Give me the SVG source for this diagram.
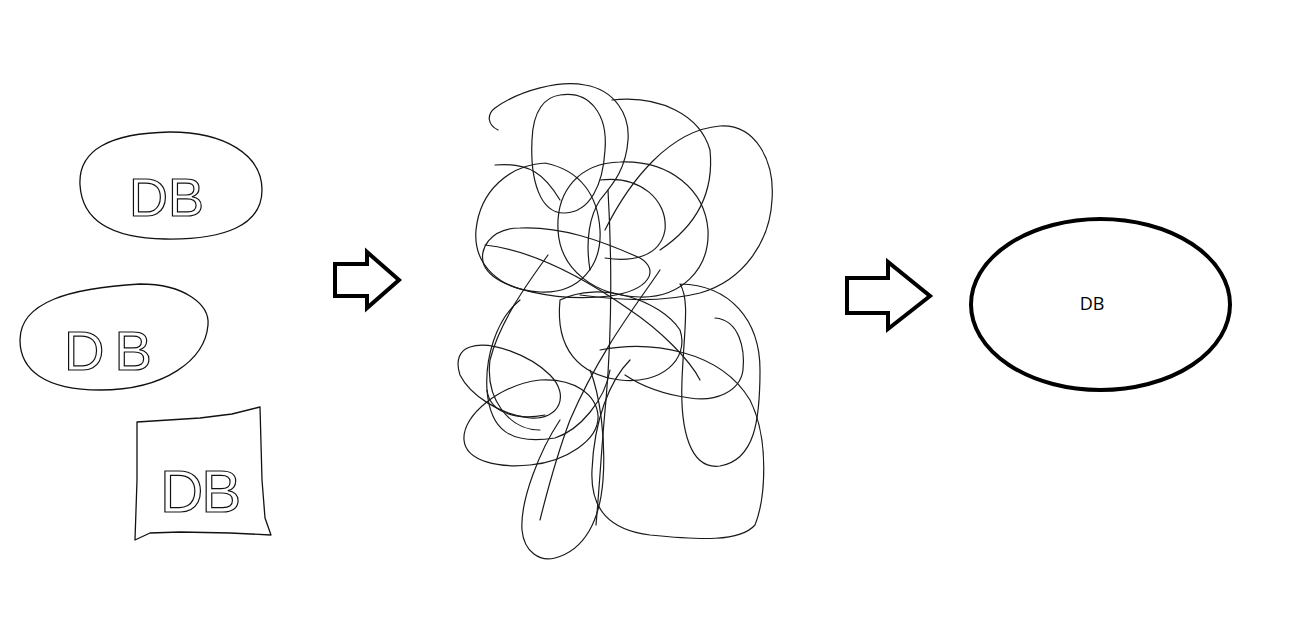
<svg xmlns="http://www.w3.org/2000/svg" width="1290" height="621" viewBox="0 0 1290 621">
<style>
.sk{fill:none;stroke:#111;stroke-width:1.3;stroke-linejoin:round;stroke-linecap:round}
.hw{fill:none;stroke:#111;stroke-width:1.2;font-family:"Liberation Sans",Arial,sans-serif}
.arr{fill:#fff;stroke:#000;stroke-width:4;stroke-linejoin:miter}
.scr{fill:none;stroke:#1a1a1a;stroke-width:1.2;stroke-linecap:round}
</style>
<rect width="1290" height="621" fill="#fff"/>
<g id="db1">
<path class="sk" d="M80,185 C78,150 110,133 170,132 C225,132 262,155 262,190 C262,225 225,240 165,239 C110,238 82,220 80,185 Z"/>
<text class="hw" x="129" y="216" font-size="54">DB</text>
</g>
<g id="db2">
<path class="sk" d="M20,340 C20,302 70,288 140,284 C185,284 210,305 208,325 C205,360 165,390 100,390 C45,390 20,370 20,340 Z"/>
<text class="hw" x="64" y="370" font-size="56" letter-spacing="10">DB</text>
</g>
<g id="db3">
<path class="sk" d="M137,422 L200,418 L232,414 L260,407 L262,480 L265,518 L271,535 L230,533 L180,532 L150,533 L135,540 L137,480 Z"/>
<text class="hw" x="160" y="512" font-size="60" letter-spacing="-2">DB</text>
</g>
<g id="arrow1">
<polygon class="arr" points="335,264 367,264 367,252 399,280 367,308 367,296 335,296"/>
</g>
<g id="scribble">
<path class="scr" d="M498,130 C488,125 486,115 495,108 C520,90 560,80 585,85 C615,90 630,115 628,140 C626,170 612,185 600,200 C590,215 585,240 590,270"/>
<path class="scr" d="M560,95 C590,90 608,115 605,150 C603,185 590,212 565,213 C540,214 530,180 532,140 C533,110 545,97 560,95"/>
<path class="scr" d="M605,230 C630,180 670,130 720,126 C755,124 775,160 772,200 C770,240 745,280 700,293 C660,303 620,300 580,295"/>
<path class="scr" d="M545,163 C510,165 480,190 476,230 C473,265 500,290 540,292 C580,294 602,265 600,230 C598,195 580,170 545,163"/>
<path class="scr" d="M620,162 C670,160 705,190 708,230 C710,270 680,298 640,297 C595,296 560,270 558,230 C556,190 580,163 620,162"/>
<path class="scr" d="M520,228 C490,228 478,250 484,265 C495,290 560,302 610,296 C650,290 660,270 640,258 C600,240 560,226 520,228"/>
<path class="scr" d="M600,180 C640,175 668,200 665,230 C660,258 630,262 605,258"/>
<path class="scr" d="M612,100 C660,95 700,115 710,150 C715,200 690,230 660,250"/>
<path class="scr" d="M680,284 C730,285 760,320 760,370 C760,420 755,460 720,466 C690,470 680,430 682,380 C684,330 690,300 680,284"/>
<path class="scr" d="M715,318 C740,320 745,350 743,370 C740,392 715,402 690,398 C660,394 640,385 625,375"/>
<path class="scr" d="M470,347 C490,340 530,355 550,375 C570,395 560,420 530,418 C500,415 470,395 460,375 C455,360 460,350 470,347"/>
<path class="scr" d="M540,380 C500,385 462,415 464,440 C466,462 500,468 530,465 C565,462 600,440 598,415 C596,395 575,378 540,380"/>
<path class="scr" d="M560,420 C540,450 520,500 522,530 C524,552 540,562 555,558 C585,550 600,520 603,480 C606,440 600,395 590,370"/>
<path class="scr" d="M600,350 C650,340 720,350 750,400 C770,440 765,500 755,525 C740,542 700,540 650,535 C610,530 590,510 592,470 C594,420 610,380 630,360"/>
<path class="scr" d="M520,300 C495,320 485,360 487,390 C490,415 520,420 545,415"/>
<path class="scr" d="M560,300 C600,280 660,300 680,330 C690,360 660,385 620,380 C580,375 555,350 560,300"/>
<path class="scr" d="M548,255 C530,280 500,320 490,360 C485,400 510,430 540,430"/>
<path class="scr" d="M660,270 C640,300 600,350 570,420 C555,460 545,500 540,520"/>
<path class="scr" d="M608,190 C612,260 612,330 606,400 C602,440 600,480 596,525"/>
<path class="scr" d="M485,245 C530,250 580,275 630,310 C660,330 690,360 700,380"/>
<path class="scr" d="M495,165 C530,162 545,175 560,200"/>
<path class="scr" d="M487,390 C490,430 510,445 555,438 C580,430 605,400 610,370"/>
</g>
<g id="arrow2">
<polygon class="arr" points="847,278 888,278 888,262 930,296 888,329 888,313 847,313"/>
</g>
<g id="db-final">
<ellipse cx="1100.5" cy="304.5" rx="129.5" ry="85.5" fill="none" stroke="#000" stroke-width="4"/>
<text x="1092" y="310" font-size="18" text-anchor="middle" font-family="'Open Sans','Liberation Sans',sans-serif" fill="#000">DB</text>
</g>
</svg>
